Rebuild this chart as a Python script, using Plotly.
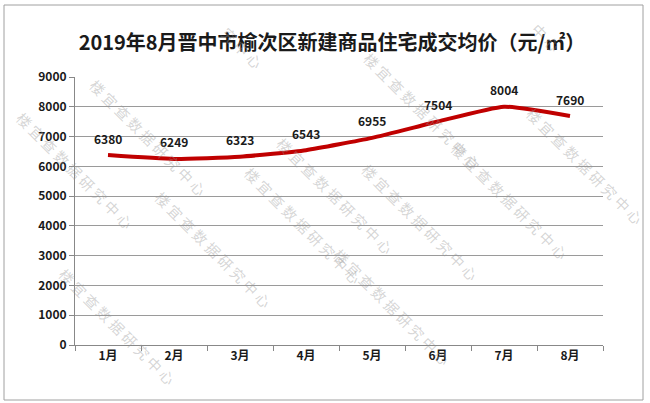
import plotly.graph_objects as go

months = ["1月", "2月", "3月", "4月", "5月", "6月", "7月", "8月"]
prices = [6380, 6249, 6323, 6543, 6955, 7504, 8004, 7690]
y_ticks = [0, 1000, 2000, 3000, 4000, 5000, 6000, 7000, 8000, 9000]
title_text = "2019年8月晋中市榆次区新建商品住宅成交均价（元/㎡）"
watermark = " ".join("楼宜查数据研究中心")
watermark_tail = " ".join("究中心")
watermark_end = " ".join("中心")

FONT = "Noto Sans CJK SC"
L, R, T, B = 75, 47, 77, 58
W, H = 650, 403
PW, PH = W - L - R, H - T - B

def px(x):
    return (x - L) / PW

def py(y):
    return (H - B - y) / PH

fig = go.Figure()
fig.add_trace(go.Scatter(
    x=months, y=prices, mode="lines",
    line=dict(color="#C00000", width=4, shape="spline", smoothing=0.5),
    hoverinfo="skip", showlegend=False,
))

annotations = []
for m, v in zip(months, prices):
    annotations.append(dict(
        x=m, y=v, xref="x", yref="y", text=str(v), showarrow=False,
        yshift=17, font=dict(family=FONT, size=12, color="#1a1a1a", weight="bold"),
    ))

# faint diagonal watermarks (center pixel positions)
wm_items = [(83, 72, watermark), (10, 170, watermark), (214, 20, watermark_tail),
            (422, 45, watermark), (568, 16, watermark_end), (650, 100, watermark),
            (335, 130, watermark), (238, 225, watermark), (575, 200, watermark),
            (485, 287, watermark), (148, 315, watermark), (392, 372, watermark),
            (52, 392, watermark)]
for cx, cy, txt in wm_items:
    annotations.append(dict(
        x=px(cx), y=py(cy), xref="paper", yref="paper", text=txt,
        showarrow=False, textangle=45,
        font=dict(family=FONT, size=14.5, color="rgba(150,150,150,0.4)"),
    ))

fig.update_layout(
    width=W, height=H,
    margin=dict(l=L, r=R, t=T, b=B),
    paper_bgcolor="white", plot_bgcolor="white",
    title=dict(text=title_text, x=332 / W, xanchor="center", y=1 - 43 / H, yanchor="middle",
               font=dict(family=FONT, size=20, color="#1a1a1a", weight="bold")),
    xaxis=dict(type="category", range=[-0.5, 7.5], tickson="boundaries", ticks="outside", ticklen=5,
               tickcolor="#888888", showline=True, linecolor="#888888", linewidth=1,
               showgrid=False, tickfont=dict(family=FONT, size=12, color="#1a1a1a", weight="bold")),
    yaxis=dict(range=[0, 9000], tickvals=y_ticks, ticks="outside", ticklen=5,
               tickcolor="#888888", showline=True, linecolor="#888888", linewidth=1,
               showgrid=True, gridcolor="#9a9a9a", gridwidth=1, zeroline=False,
               tickfont=dict(family=FONT, size=12, color="#1a1a1a", weight="bold")),
    annotations=annotations,
    shapes=[dict(type="rect", xref="paper", yref="paper",
                 x0=px(4), x1=px(643), y0=py(400), y1=py(5),
                 line=dict(color="#a0a0a0", width=1), fillcolor="rgba(0,0,0,0)")],
)

fig.write_html("out.html", config={"displayModeBar": False},
               post_script="document.body.style.margin='0';document.body.style.overflow='hidden';")
